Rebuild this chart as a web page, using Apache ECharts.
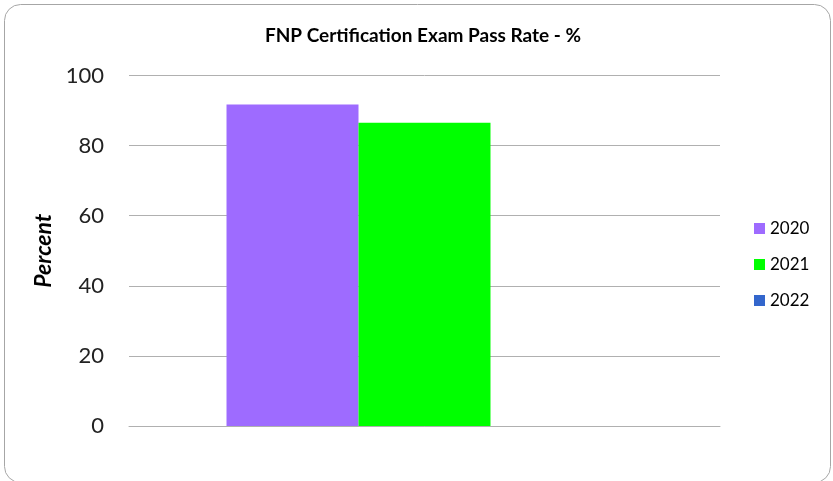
<!DOCTYPE html>
<html><head><meta charset="utf-8">
<script src="https://cdn.jsdelivr.net/npm/echarts@6/dist/echarts.min.js"></script>
<style>html,body{margin:0;padding:0;background:#fff}#c{width:833px;height:481px}</style>
</head><body><div id="c"></div>
<script>
const categories = [''];
const seriesNames = ['2020', '2021', '2022'];
const values2020 = [91.7];
const values2021 = [86.5];
const values2022 = [null];
const colors = ['#9E6BFF', '#00FF00', '#3366CC'];
const yTicks = [0, 20, 40, 60, 80, 100];

const chart = echarts.init(document.getElementById('c'));
const allValues = [values2020, values2021, values2022];
chart.setOption({
  animation: false,
  graphic: [{
    type: 'rect', shape: {x: 4.5, y: 4.5, width: 826, height: 478, r: 16},
    style: {fill: 'none', stroke: '#a6a6a6', lineWidth: 1}, silent: true
  }],
  title: {
    text: 'FNP Certification Exam Pass Rate - %', left: 418, top: 21, textAlign: 'center',
    textStyle: {fontFamily: 'Lato', fontSize: 19, fontWeight: 'bold', color: '#000'}
  },
  legend: {
    orient: 'vertical', left: 749, top: 215, itemGap: 19, itemWidth: 11, itemHeight: 11,
    icon: 'rect', data: seriesNames,
    textStyle: {fontFamily: 'Lato', fontSize: 17, color: '#000'}
  },
  grid: {left: 129, right: 113, top: 75.5, bottom: 55, containLabel: false},
  xAxis: {
    type: 'category', data: categories,
    axisLine: {lineStyle: {color: '#b0b0b0', width: 1}}, axisTick: {show: false}, axisLabel: {show: false}
  },
  yAxis: {
    type: 'value', min: yTicks[0], max: yTicks[yTicks.length - 1], interval: 20,
    name: 'Percent', nameLocation: 'middle', nameGap: 68, nameRotate: 90,
    nameTextStyle: {fontFamily: 'Lato', fontSize: 23, fontWeight: 'bold', fontStyle: 'italic', color: '#000'},
    axisLine: {show: false}, axisTick: {show: false},
    axisLabel: {fontFamily: 'Lato', fontSize: 22, color: '#222', margin: 25},
    splitLine: {lineStyle: {color: '#b0b0b0', width: 1}}
  },
  series: seriesNames.map((n, i) => ({
    name: n, type: 'bar', data: allValues[i], barGap: '0%', barCategoryGap: '33%',
    itemStyle: {color: colors[i]}
  }))
});
</script></body></html>
